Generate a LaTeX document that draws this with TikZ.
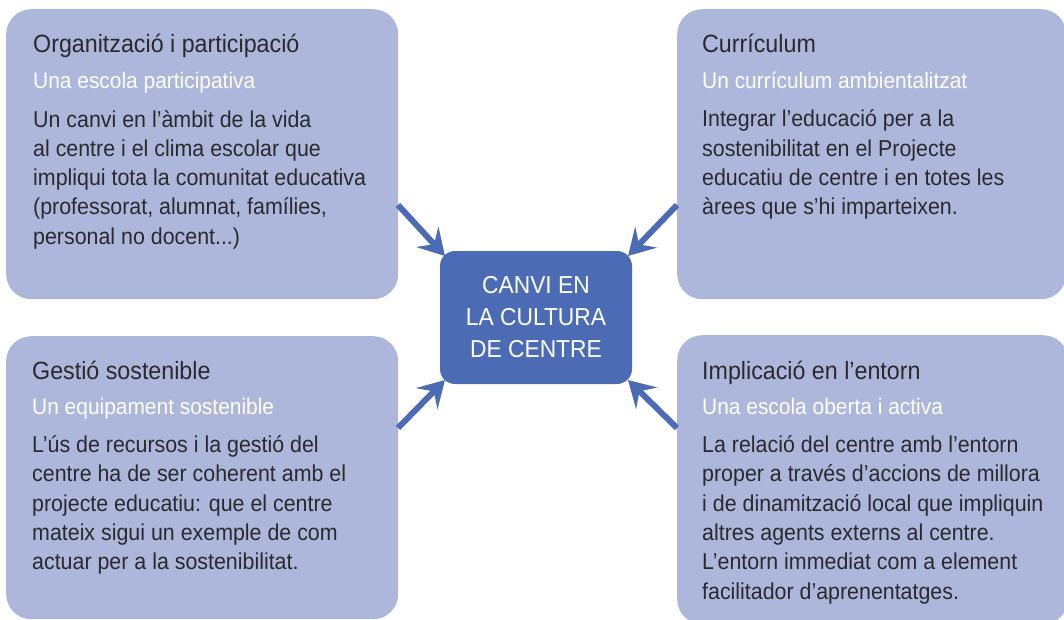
\documentclass[tikz,border=0pt]{standalone}
\usepackage{fontspec}
\setmainfont[FakeStretch=0.93]{Liberation Sans}
\usetikzlibrary{arrows.meta}
\definecolor{boxfill}{HTML}{ADB7DB}
\definecolor{cfill}{HTML}{4C6BB5}
\definecolor{txt}{HTML}{2A292D}
\tikzset{
  panel/.style={fill=boxfill, draw=none, rounded corners=25pt, anchor=north west,
    minimum width=392pt, inner sep=0pt},
  ttl/.style={anchor=base west, inner sep=0pt, text=txt, font=\fontsize{25}{30}\selectfont},
  sub/.style={anchor=base west, inner sep=0pt, text=white, font=\fontsize{22.5}{27}\selectfont},
  body/.style={anchor=base west, inner sep=0pt, text=txt, align=left,
    font=\fontsize{23}{29.3}\selectfont},
  arr/.style={draw=cfill, line width=6pt,
    -{Stealth[length=26pt, width=30pt, inset=10pt]}}
}
\begin{document}
\begin{tikzpicture}[x=1pt, y=-1pt]
\useasboundingbox (0,0) rectangle (1064,620);
\clip (0,0) rectangle (1064,620);
% panels
\node[panel, minimum height=290pt] (tl) at (6,9) {};
\node[panel, minimum height=290pt, minimum width=389pt] (tr) at (677,9) {};
\node[panel, minimum height=283pt] (bl) at (6,336) {};
\node[panel, minimum height=289pt, minimum width=391pt] (br) at (677,335) {};
% center
\node[fill=cfill, rounded corners=15pt, minimum width=192pt, minimum height=133pt,
  inner sep=0pt, text=white, align=center, font=\fontsize{24.5}{32}\selectfont]
  (c) at (536,317.5) {CANVI EN\\LA CULTURA\\DE CENTRE};
% top-left texts (body anchored at baseline of its last line)
\node[ttl] (tlT) at (33,53) {Organització i participació};
\node[sub] (tlS) at (33,89) {Una escola participativa};
\node[body] (tlB) at (33,244.2) {Un canvi en l’àmbit de la vida\\al centre i el clima escolar que\\impliqui tota la comunitat educativa\\(professorat, alumnat, famílies,\\personal no docent...)};
% top-right texts
\node[ttl] (trT) at (702,53) {Currículum};
\node[sub] (trS) at (702,89) {Un currículum ambientalitzat};
\node[body] (trB) at (702,214.9) {Integrar l’educació per a la\\sostenibilitat en el Projecte\\educatiu de centre i en totes les\\àrees que s’hi imparteixen.};
% bottom-left texts
\node[ttl] (blT) at (32,379) {Gestió sostenible};
\node[sub] (blS) at (32,414.5) {Un equipament sostenible};
\node[body] (blB) at (32,569.7) {L’ús de recursos i la gestió del\\centre ha de ser coherent amb el\\projecte educatiu: que el centre\\mateix sigui un exemple de com\\actuar per a la sostenibilitat.};
% bottom-right texts
\node[ttl] (brT) at (702,379) {Implicació en l’entorn};
\node[sub] (brS) at (702,414.5) {Una escola oberta i activa};
\node[body] (brB) at (702,599) {La relació del centre amb l’entorn\\proper a través d’accions de millora\\i de dinamització local que impliquin\\altres agents externs al centre.\\L’entorn immediat com a element\\facilitador d’aprenentatges.};
% arrows
\coordinate (a1s) at (398,205); \coordinate (a1e) at (445,256);
\coordinate (a2s) at (677,205); \coordinate (a2e) at (628,256);
\coordinate (a3s) at (398,428); \coordinate (a3e) at (445,380);
\coordinate (a4s) at (677,428); \coordinate (a4e) at (628,380);
\draw[arr] (a1s) -- (a1e);
\draw[arr] (a2s) -- (a2e);
\draw[arr] (a3s) -- (a3e);
\draw[arr] (a4s) -- (a4e);
\end{tikzpicture}
\end{document}
